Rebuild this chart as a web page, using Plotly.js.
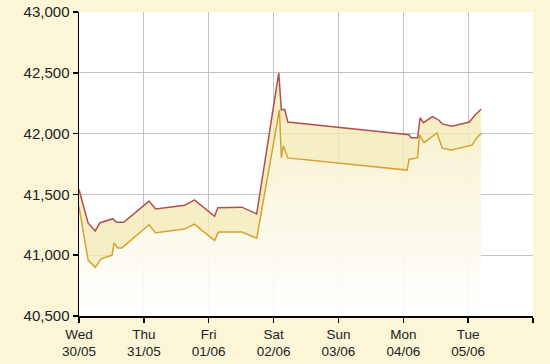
<!DOCTYPE html>
<html>
<head>
<meta charset="utf-8">
<script src="https://cdn.plot.ly/plotly-3.0.1.min.js"></script>
<style>html,body{margin:0;padding:0;background:#FAF6D7;}#chart{width:550px;height:364px;}</style>
</head>
<body>
<div id="chart"></div>
<script>
// x values are days since Wed 30/05 00:00
var tickDays = [0, 1, 2, 3, 4, 5, 6, 7];
var tickLabels = ["Wed<br>30/05", "Thu<br>31/05", "Fri<br>01/06", "Sat<br>02/06", "Sun<br>03/06", "Mon<br>04/06", "Tue<br>05/06", ""];

var sellX = [0.0, 0.14, 0.25, 0.32, 0.52, 0.58, 0.63, 0.69, 1.08, 1.18, 1.63, 1.78, 2.09, 2.14, 2.51, 2.74, 3.08, 3.12, 3.17, 3.22, 5.09, 5.12, 5.22, 5.26, 5.31, 5.45, 5.55, 5.60, 5.75, 6.02, 6.11, 6.20];
var sellY = [41540, 41265, 41200, 41265, 41300, 41270, 41270, 41270, 41445, 41380, 41410, 41455, 41320, 41390, 41395, 41340, 42500, 42195, 42200, 42095, 41990, 41965, 41965, 42130, 42090, 42140, 42110, 42080, 42060, 42095, 42155, 42200];

var buyX = [0.0, 0.14, 0.25, 0.34, 0.51, 0.54, 0.60, 0.66, 1.08, 1.18, 1.63, 1.78, 2.09, 2.15, 2.51, 2.74, 3.09, 3.12, 3.15, 3.22, 5.06, 5.09, 5.22, 5.25, 5.32, 5.52, 5.60, 5.74, 6.06, 6.14, 6.20];
var buyY = [41400, 40960, 40900, 40970, 41000, 41100, 41060, 41060, 41250, 41185, 41215, 41255, 41120, 41190, 41190, 41140, 42195, 41800, 41900, 41800, 41700, 41790, 41800, 41990, 41925, 42005, 41880, 41865, 41905, 41970, 42000];

var yTicks = [40500, 41000, 41500, 42000, 42500, 43000];

var buyTrace = {
  x: buyX, y: buyY, type: 'scatter', mode: 'lines',
  line: {color: '#D4A230', width: 1.5},
  fill: 'tozeroy',
  fillgradient: {type: 'vertical', start: 40500, stop: 42100,
    colorscale: [[0, 'rgba(255,255,255,0.9)'], [1, 'rgba(247,241,206,1)']]},
  hoverinfo: 'skip'
};
var sellTrace = {
  x: sellX, y: sellY, type: 'scatter', mode: 'lines',
  line: {color: '#B0504E', width: 1.5},
  fill: 'tonexty', fillcolor: 'rgba(244,235,184,0.8)',
  hoverinfo: 'skip'
};

var layout = {
  width: 550, height: 364,
  margin: {l: 79, r: 17, t: 12, b: 48},
  paper_bgcolor: '#FAF6D7', plot_bgcolor: '#FFFFFF',
  showlegend: false,
  font: {family: 'Liberation Sans, Arial, sans-serif', size: 13, color: '#222222'},
  xaxis: {
    range: [0, 7], tickmode: 'array', tickvals: tickDays, ticktext: tickLabels,
    showgrid: true, gridcolor: '#C4C4C4', gridwidth: 1,
    showline: true, linecolor: '#000000', linewidth: 1.5,
    ticks: 'outside', ticklen: 5, tickcolor: '#000000', tickwidth: 1.5,
    zeroline: false, fixedrange: true,
    tickfont: {size: 13.5, color: '#222222'}
  },
  yaxis: {
    range: [40500, 43000], tickmode: 'array', tickvals: yTicks, tickformat: ',d',
    showgrid: true, gridcolor: '#C4C4C4', gridwidth: 1,
    showline: true, linecolor: '#000000', linewidth: 1.5,
    ticks: 'outside', ticklen: 5, tickcolor: '#000000', tickwidth: 1.5,
    zeroline: false, fixedrange: true,
    tickfont: {size: 15, color: '#222222'}
  }
};

Plotly.newPlot('chart', [buyTrace, sellTrace], layout, {staticPlot: true, displayModeBar: false});
</script>
</body>
</html>
